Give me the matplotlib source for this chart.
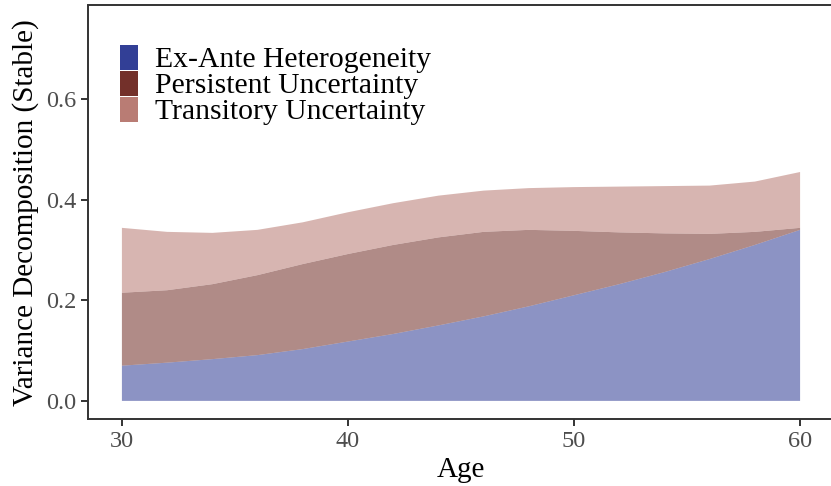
import matplotlib
matplotlib.use("Agg")
import matplotlib.pyplot as plt
from matplotlib.patches import Rectangle
import numpy as np

# ---- data ----
ages = [30, 32, 34, 36, 38, 40, 42, 44, 46, 48, 50, 52, 54, 56, 58, 60]
ex_ante = [0.070, 0.076, 0.083, 0.091, 0.103, 0.118, 0.133, 0.150,
           0.168, 0.188, 0.210, 0.232, 0.256, 0.282, 0.310, 0.340]
persistent = [0.145, 0.144, 0.149, 0.159, 0.169, 0.174, 0.177, 0.175,
              0.168, 0.152, 0.128, 0.103, 0.077, 0.050, 0.026, 0.004]
transitory = [0.129, 0.116, 0.102, 0.090, 0.083, 0.083, 0.083, 0.083,
              0.082, 0.083, 0.087, 0.091, 0.094, 0.096, 0.100, 0.111]
series_labels = ["Ex-Ante Heterogeneity", "Persistent Uncertainty", "Transitory Uncertainty"]
series_colors = ["#323f96", "#73302a", "#b97c74"]
x_ticks = [30, 40, 50, 60]
y_ticks = [0.0, 0.2, 0.4, 0.6]

plt.rcParams["font.family"] = ["Liberation Serif", "DejaVu Serif"]

W, H = 831, 486
fig = plt.figure(figsize=(W / 100, H / 100), dpi=100)
ax = fig.add_axes([88 / W, 1 - 419 / H, (834 - 88) / W, (419 - 5.5) / H])

ax.stackplot(ages, ex_ante, persistent, transitory, colors=series_colors,
             alpha=0.56, linewidth=0, edgecolor="none", antialiased=True)

ax.set_xlim(28.5, 61.5)
ax.set_ylim(-0.036, 0.786)
ax.set_xticks(x_ticks)
ax.set_xticklabels([str(v) for v in x_ticks])
ax.set_yticks(y_ticks)
ax.set_yticklabels([f"{v:.1f}" for v in y_ticks])

ax.tick_params(axis="both", length=5, width=1.4, color="#333333",
               labelsize=17.5, labelcolor="#4d4d4d", pad=3.5)
for sp in ax.spines.values():
    sp.set_color("#333333")
    sp.set_linewidth(1.4)

ax.set_xlabel("Age", fontsize=21, labelpad=4)
ax.set_ylabel("Variance Decomposition (Stable)", fontsize=21, labelpad=5)

# legend (manual, inside panel, ggplot style)
def px(x, y):
    return x / W, 1 - y / H

for i, (lab, col) in enumerate(zip(series_labels, series_colors)):
    top = 45 + 26 * i
    x0, y0 = px(120.5, top + 25)
    fig.patches.append(Rectangle((x0, y0), 17.6 / W, 25 / H,
                                 transform=fig.transFigure, facecolor=col,
                                 edgecolor="none"))
    tx, ty = px(155, top + 22)
    fig.text(tx, ty, lab, fontsize=21.3, va="baseline", ha="left", color="black")

fig.savefig("out.png", dpi=100)
